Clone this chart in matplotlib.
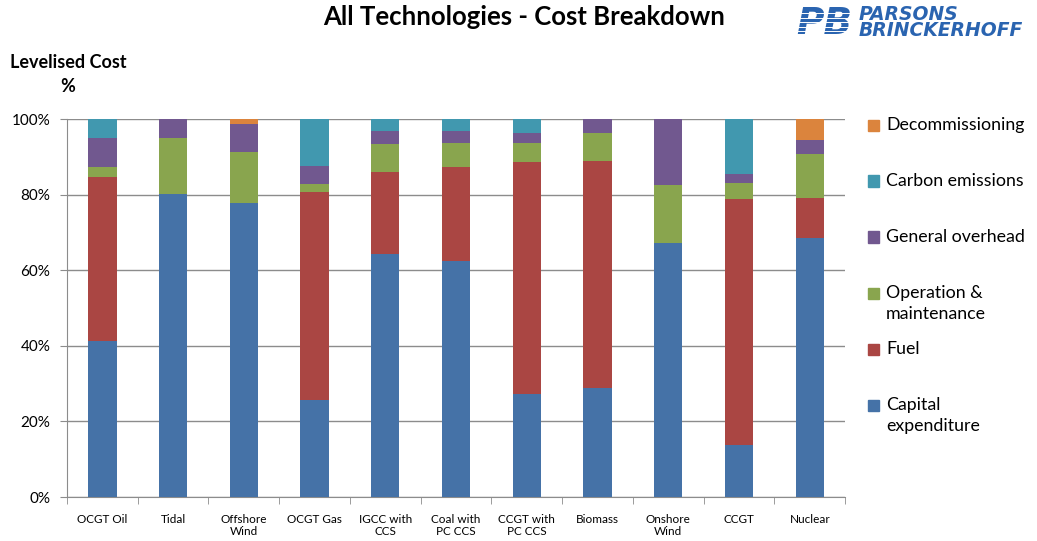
import numpy as np
import matplotlib.pyplot as plt
from matplotlib.patches import Rectangle

plt.rcParams['font.family'] = ['Lato', 'DejaVu Sans']

# 数据（百分比）
techs = ['OCGT Oil', 'Tidal', 'Offshore\nWind', 'OCGT Gas', 'IGCC with\nCCS', 'Coal with\nPC CCS',
         'CCGT with\nPC CCS', 'Biomass', 'Onshore\nWind', 'CCGT', 'Nuclear']
capital = [41.3, 80.2, 77.8, 25.7, 64.3, 62.4, 27.2, 28.8, 67.2, 13.8, 68.5]
fuel = [43.4, 0, 0, 55.0, 21.7, 24.9, 61.4, 60.1, 0, 65.0, 10.6]
om = [2.6, 14.8, 13.5, 2.1, 7.4, 6.4, 5.1, 7.4, 15.3, 4.3, 11.6]
overhead = [7.7, 5.0, 7.4, 4.8, 3.4, 3.1, 2.6, 3.7, 17.5, 2.3, 3.7]
carbon = [5.0, 0, 0, 12.4, 3.2, 3.2, 3.7, 0, 0, 14.6, 0]
decom = [0, 0, 1.3, 0, 0, 0, 0, 0, 0, 0, 5.6]

series = [('Capital\nexpenditure', capital, '#4572A7'),
          ('Fuel', fuel, '#AA4643'),
          ('Operation &\nmaintenance', om, '#89A54E'),
          ('General overhead', overhead, '#71588F'),
          ('Carbon emissions', carbon, '#4198AF'),
          ('Decommissioning', decom, '#DB843D')]

fig = plt.figure(figsize=(10.37, 5.41), dpi=100)
ax = fig.add_axes([0.0646, 0.0813, 0.7504, 0.6987])

x = np.arange(len(techs))
bottom = np.zeros(len(techs))
for name, vals, col in series:
    ax.bar(x, vals, 0.4, bottom=bottom, color=col, zorder=3)
    bottom += np.array(vals)

ax.set_xlim(-0.5, len(techs) - 0.5)
ax.set_ylim(0, 100)
ax.set_yticks(np.arange(0, 101, 20))
ax.set_yticklabels([f'{v}%' for v in range(0, 101, 20)], fontsize=11)
ax.grid(axis='y', color='#8c8c8c', lw=1, zorder=0)
ax.set_xticks(x)
ax.set_xticklabels(techs, fontsize=8.5)
ax.set_xticks(np.arange(-0.5, len(techs)), minor=True)
ax.tick_params(axis='x', which='major', length=0, pad=12)
ax.tick_params(axis='x', which='minor', length=5, color='#8c8c8c')
ax.tick_params(axis='y', length=5, color='#8c8c8c', pad=7)
for s in ['top', 'right']:
    ax.spines[s].set_visible(False)
for s in ['left', 'bottom']:
    ax.spines[s].set_color('#8c8c8c')

# 图例（手动放置）
for i, (name, vals, col) in enumerate(series[::-1]):
    yy = 1 - (125 + 56 * i) / 541
    fig.patches.append(Rectangle((868 / 1037, yy - 5.5 / 541), 11 / 1037, 11 / 541,
                                 transform=fig.transFigure, color=col))
    fig.text(886 / 1037, yy + 8 / 541, name, fontsize=12.8, va='top', ha='left',
             linespacing=1.4)

fig.text(0.505, 1 - 17 / 541, 'All Technologies - Cost Breakdown', fontsize=18.5,
         fontweight='bold', ha='center', va='center')
fig.text(68 / 1037, 1 - 63 / 541, 'Levelised Cost', fontsize=13, fontweight='bold',
         ha='center', va='center')
fig.text(68 / 1037, 1 - 86 / 541, '%', fontsize=13, fontweight='bold',
         ha='center', va='center')

# 标志
fig.text(796 / 1037, 1 - 24 / 541, 'PB', fontsize=27, fontweight='heavy', style='italic',
         color='#2a64b0', ha='left', va='center', family='DejaVu Sans')
for k in range(6):
    ly = 1 - (13 + 4.5 * k) / 541
    fig.lines.append(plt.Line2D([795 / 1037, 852 / 1037], [ly, ly], transform=fig.transFigure,
                                color='white', lw=0.7, zorder=10))
fig.text(859 / 1037, 1 - 14 / 541, 'PARSONS', fontsize=13.5, fontweight='heavy', style='italic',
         color='#2a64b0', ha='left', va='center', family='DejaVu Sans')
fig.text(859 / 1037, 1 - 31 / 541, 'BRINCKERHOFF', fontsize=13.5, fontweight='heavy', style='italic',
         color='#2a64b0', ha='left', va='center', family='DejaVu Sans')

fig.savefig('out.png', dpi=100)
